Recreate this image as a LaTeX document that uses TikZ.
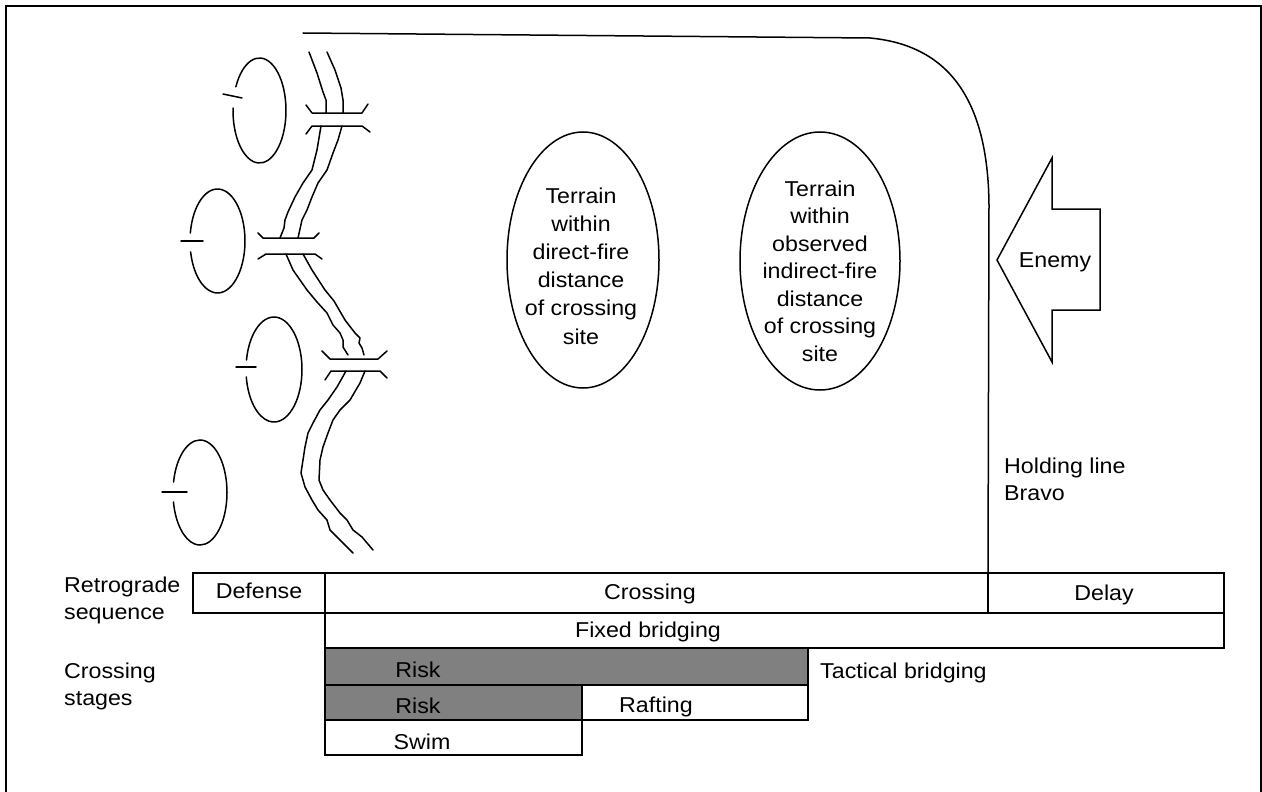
\documentclass[tikz,border=0pt]{standalone}
\usepackage{fontspec}
\setmainfont{Liberation Sans}[FakeStretch=1.08]
\usetikzlibrary{shapes.geometric}
\tikzset{
  ln/.style={line width=1.5pt, line join=round, line cap=round},
  frameline/.style={line width=2pt},
  box/.style={draw, rectangle, line width=1.5pt, inner sep=0pt, outer sep=0pt, anchor=north west},
  graybox/.style={box, fill=black!50},
  lbl/.style={font=\fontsize{21.5}{27}\selectfont, inner sep=0pt},
  terr/.style={draw, ellipse, line width=1.5pt, inner sep=0pt},
}
\begin{document}
\begin{tikzpicture}[x=1pt,y=-1pt]
\useasboundingbox (0,0) rectangle (1262,792);
% outer frame
\draw[frameline] (6,792) -- (6,6) -- (1261,6) -- (1261,792);

% bottom table
\node[box, minimum width=132, minimum height=40] (def) at (193,573) {};
\node[box, minimum width=663, minimum height=40] (cross) at (325,573) {};
\node[box, minimum width=236, minimum height=40] (delay) at (988,573) {};
\node[box, minimum width=899, minimum height=35] (fixed) at (325,613) {};
\node[graybox, minimum width=483, minimum height=37] (risk1) at (325,648) {};
\node[graybox, minimum width=257, minimum height=35] (risk2) at (325,685) {};
\node[box, minimum width=226, minimum height=35] (raft) at (582,685) {};
\node[box, minimum width=257, minimum height=35] (swim) at (325,720) {};
\draw[line width=2.5pt] (swim.south west) -- (swim.south east);

\node[lbl, anchor=base] (tdef) at (259,598) {Defense};
\node[lbl, anchor=base] (tcross) at (650,599) {Crossing};
\node[lbl, anchor=base] (tdelay) at (1104,600) {Delay};
\node[lbl, anchor=base] (tfixed) at (648,637) {Fixed bridging};
\node[lbl, anchor=base] (trisk1) at (418,677) {Risk};
\node[lbl, anchor=base] (trisk2) at (418,713) {Risk};
\node[lbl, anchor=base] (traft) at (656,712) {Rafting};
\node[lbl, anchor=base] (tswim) at (422,749) {Swim};
\node[lbl, anchor=base west] (ttact) at (820,678) {Tactical bridging};
\node[lbl, align=left, anchor=west] (tretro) at (64,600) {Retrograde\\sequence};
\node[lbl, align=left, anchor=west] (tstages) at (64,686) {Crossing\\stages};
\node[lbl, align=left, anchor=west] (thold) at (1004,479) {Holding line\\Bravo};

% holding line / limit curve
\draw[ln] (303,33) -- (870,38) .. controls (945,45) and (988,95) .. (989,205)
  -- (cross.north east);

% terrain ellipses
\node[terr, minimum width=152, minimum height=256] (e1) at (583,260) {};
\node[lbl, align=center, font=\fontsize{21.5}{28.2}\selectfont] (e1t) at (581,266) {Terrain\\within\\direct-fire\\distance\\of crossing\\site};
\node[terr, minimum width=160, minimum height=258] (e2) at (820,261) {};
\node[lbl, align=center, font=\fontsize{21.5}{27.5}\selectfont] (e2t) at (820,271) {Terrain\\within\\observed\\indirect-fire\\distance\\of crossing\\site};

% enemy arrow
\draw[ln, line cap=butt, line join=miter] (997,260) -- (1052,158) -- (1052,209) -- (1100,209) -- (1100,310) -- (1052,310) -- (1052,362) -- cycle;
\node[lbl] (enemy) at (1055,262) {Enemy};

% river banks
\draw[ln] (309,52) -- (317,73) -- (323,92) -- (326,100) -- (326,113);
\draw[ln] (327,52) -- (335,70) -- (341,88) -- (343,100) -- (343,113);
\draw[ln] (321,126) -- (317,150) -- (312,170) -- (303,183) -- (295,197) -- (288,212) -- (285,220) -- (284,228) -- (280,238);
\draw[ln] (342,126) -- (338,140) -- (333,153) -- (327,170) -- (318,183) -- (312,197) -- (307,210) -- (302,220) -- (298,238);
\draw[ln] (286,254) -- (293,270) -- (307,290) -- (317,302) -- (327,313) -- (333,325) -- (340,333) -- (343,340) -- (343,347) -- (348,355);
\draw[ln] (303,254) -- (312,270) -- (325,290) -- (334,301) -- (345,320) -- (355,333) -- (360,338) -- (359,343) -- (362,348) -- (364,355);
\draw[ln] (346,371) -- (337,387) -- (328,400) -- (320,410) -- (313,423) -- (308,433) -- (305,447) -- (303,460) -- (301,473) -- (305,487) -- (312,500) -- (318,510) -- (327,520) -- (330,530) -- (340,540) -- (353,553);
\draw[ln] (365,371) -- (360,383) -- (350,400) -- (340,410) -- (333,420) -- (328,433) -- (323,447) -- (320,460) -- (319,480) -- (323,490) -- (330,500) -- (340,513) -- (347,520) -- (353,530) -- (362,537) -- (373,550);

% bridges
\draw[ln] (306,105) -- (312,113) -- (362,113) -- (368,104);
\draw[ln] (306,134) -- (312,126) -- (362,126) -- (370,132);
\draw[ln] (258,233) -- (263,238) -- (314,238) -- (319,233);
\draw[ln] (258,259) -- (266,254) -- (315,254) -- (322,259);
\draw[ln] (322,351) -- (330,359) -- (378,359) -- (387,351);
\draw[ln] (325,380) -- (331,371) -- (380,371) -- (387,378);

% unit symbols (open ellipses with ticks)
\draw[ln] (259.5,110.5) ++(206.8:26.5 and 52.5) arc[start angle=206.8, end angle=542.7, x radius=26.5, y radius=52.5];
\draw[ln] (223,94) -- (242,98);
\draw[ln] (217.5,241) ++(188.8:27.5 and 52) arc[start angle=188.8, end angle=527.8, x radius=27.5, y radius=52];
\draw[ln] (181,241) -- (203,241);
\draw[ln] (274,369.5) ++(190.4:28 and 52.5) arc[start angle=190.4, end angle=531.8, x radius=28, y radius=52.5];
\draw[ln] (236,367) -- (256,367);
\draw[ln] (200,492.5) ++(191.5:27 and 52.5) arc[start angle=191.5, end angle=529.6, x radius=27, y radius=52.5];
\draw[ln] (162,492) -- (187,492);
\end{tikzpicture}
\end{document}
